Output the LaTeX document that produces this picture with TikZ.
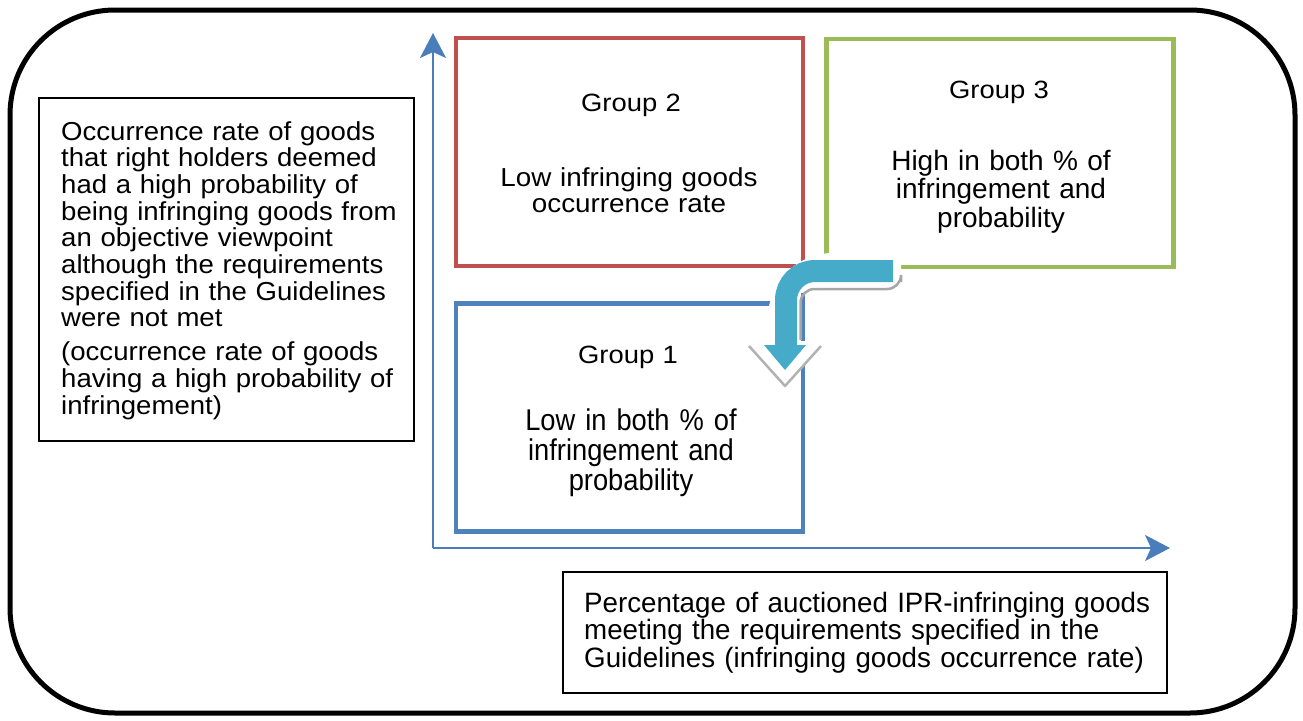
\documentclass[tikz,border=0pt]{standalone}
\usepackage{fontspec}
\setmainfont{Liberation Sans}
\newfontfamily\fTitle{Liberation Sans}[FakeStretch=1.096]
\newfontfamily\fLeft{Liberation Sans}[FakeStretch=1.06]
\newfontfamily\fGtwo{Liberation Sans}[FakeStretch=1.07]
\newfontfamily\fGthree{Liberation Sans}[FakeStretch=1.0]
\newfontfamily\fGone{Liberation Sans}[FakeStretch=0.91]
\newfontfamily\fBot{Liberation Sans}[FakeStretch=0.99]
\usetikzlibrary{arrows.meta}
\definecolor{gred}{HTML}{C0504D}
\definecolor{ggreen}{HTML}{9BBB59}
\definecolor{gblue}{HTML}{4F81BD}
\definecolor{axisblue}{HTML}{4A7EBB}
\definecolor{arrowc}{HTML}{46ABC8}
\tikzset{
  grpbox/.style={draw=#1, line width=4.5, minimum width=347, minimum height=228, inner sep=0, outer sep=0},
  txtbox/.style={draw=black, line width=1.5, inner sep=0},
  axis/.style={draw=axisblue, line width=2, -{Stealth[length=25pt, width=26pt, inset=6pt]}},
  title/.style={anchor=base, inner sep=0, text width=340, align=center, font=\fTitle\fontsize{25}{27}\selectfont},
  gtext/.style={anchor=base, inner sep=0, text width=340, align=center},
}
\begin{document}
\begin{tikzpicture}[x=1pt, y=-1pt]
\useasboundingbox (0,0) rectangle (1303,720);
% outer frame
\node[draw=black, line width=5, rounded corners=105, minimum width=1285, minimum height=703, inner sep=0] (frame) at (652.5,361.5) {};

% left and bottom text boxes
\node[txtbox, minimum width=375, minimum height=343] (leftbox) at (226.5,269.5) {};
\node[txtbox, minimum width=604, minimum height=121] (botbox) at (865,632.5) {};

\node[anchor=base west, inner sep=0, text width=400, align=left, font=\fLeft\fontsize{26}{26.7}\selectfont] (lefttext) at (61,140)
{Occurrence rate of goods\\that right holders deemed\\had a high probability of\\being infringing goods from\\an objective viewpoint\\although the requirements\\specified in the Guidelines\\were not met\\[7pt](occurrence rate of goods\\having a high probability of\\infringement)};

\node[anchor=base west, inner sep=0, text width=600, align=left, font=\fBot\fontsize{28}{27.5}\selectfont] (bottext) at (584,612)
{Percentage of auctioned IPR-infringing goods\\meeting the requirements specified in the\\Guidelines (infringing goods occurrence rate)};

% axes
\coordinate (O) at (433,548);
\coordinate (ytip) at (433,33);
\coordinate (xtip) at (1170,548);
\draw[axis] (O) -- (ytip);
\draw[axis] (O) -- (xtip);

% group boxes
\node[grpbox=gred] (g2) at (629.5,151.75) {};
\node[grpbox=ggreen] (g3) at (1000,153) {};
\node[grpbox=gblue] (g1) at (629.5,417.5) {};

% curved arrow: white backing
\coordinate (a1) at (901,271);
\coordinate (a2) at (786,271);
\coordinate (a3) at (786,346);
\draw[white, line width=36, rounded corners=47] (a1) -- (a2) -- (a3);
% blue box right edge visible beside the arrow
\draw[gblue, line width=4.5] (g1.north east |- 0,293) -- (g1.north east |- 0,500);
% shadow
\draw[black!35, line width=2.5, rounded corners=14] (901,282) -- (901,289) -- (800.5,289) -- (800.5,340);
% white head outline with shadow
\fill[white] (745,341) -- (825,341) -- (785,388) -- cycle;
\draw[black!30, line width=2.5, line join=round] (749,346) -- (785,386) -- (821,346);
% arrow body
\draw[arrowc, line width=22, rounded corners=29] (893,271) -- (a2) -- (a3);
\fill[arrowc] (764,345) -- (806,345) -- (785,370) -- cycle;

% group texts
\node[title] (g2t) at (631,111) {Group 2};
\node[gtext, font=\fGtwo\fontsize{26}{26.7}\selectfont] (g2d) at (629,186) {Low infringing goods\\occurrence rate};

\node[title] (g3t) at (999,98) {Group 3};
\node[gtext, font=\fGthree\fontsize{28}{28.5}\selectfont] (g3d) at (1001,170) {High in both \% of\\infringement and\\probability};

\node[title] (g1t) at (628,363) {Group 1};
\node[gtext, font=\fGone\fontsize{30}{30}\selectfont] (g1d) at (631,430) {Low in both \% of\\infringement and\\probability};
\end{tikzpicture}
\end{document}
